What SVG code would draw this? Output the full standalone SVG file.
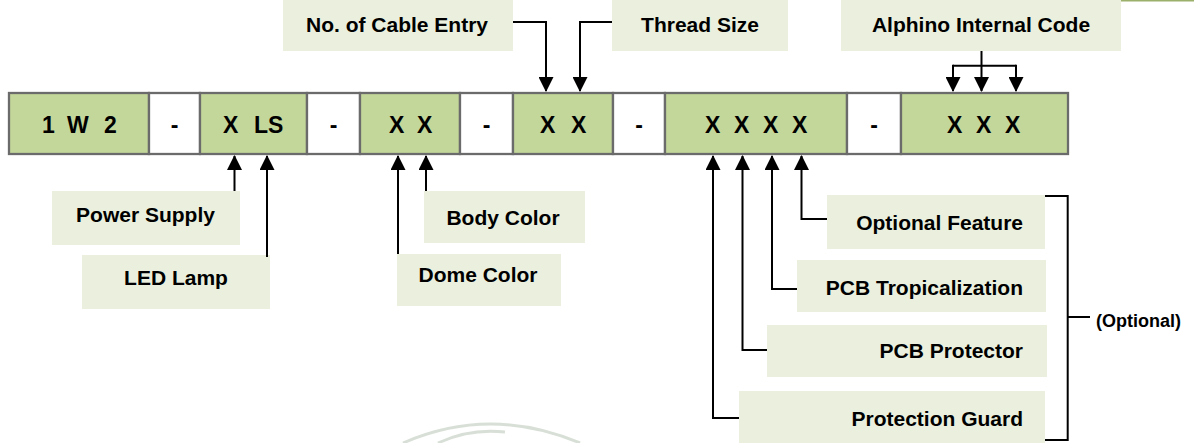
<svg xmlns="http://www.w3.org/2000/svg" width="1194" height="443" viewBox="0 0 1194 443">
<style>
.seg{fill:#C4D79B;stroke:#6b6b6b;stroke-width:2.3}
.dash{fill:#ffffff;stroke:#6b6b6b;stroke-width:2.3}
.lbl{fill:#EBF0DE}
.code{font-family:"Liberation Sans",Arial,sans-serif;font-weight:bold;font-size:23px;fill:#000}
.t{font-family:"Liberation Sans",Arial,sans-serif;font-weight:bold;font-size:21px;fill:#000}
.opt{font-family:"Liberation Sans",Arial,sans-serif;font-weight:bold;font-size:18px;fill:#000}
.c{fill:none;stroke:#000;stroke-width:2}
.a{marker-end:url(#ah)}
</style>
<defs>
<marker id="ah" viewBox="0 0 15 15" markerWidth="15" markerHeight="15" refX="14" refY="7.5" orient="auto" markerUnits="userSpaceOnUse">
<path d="M0,0 L15,7.5 L0,15 z" fill="#000"/>
</marker>
</defs>
<rect x="1121" y="0" width="73" height="1.5" fill="#9BB06A"/>
<g id="watermark" fill="none" stroke="#cfd8cc" stroke-width="3" opacity="0.8">
<path d="M403,443 Q490,405 580,443"/>
<path d="M438,443 Q470,428 505,432"/>
</g>
<g id="code-row">
<g id="seg1"><rect class="seg" x="9" y="93" width="140" height="61"/><text class="code" x="42 55 67 93 104" y="133">1 W 2</text></g>
<g id="dash1"><rect class="dash" x="149" y="93" width="51" height="61"/><text class="code" x="174.5" y="133" text-anchor="middle">-</text></g>
<g id="seg2"><rect class="seg" x="200" y="93" width="107" height="61"/><text class="code" x="223 240 254" y="133">X LS</text></g>
<g id="dash2"><rect class="dash" x="307" y="93" width="53" height="61"/><text class="code" x="333.5" y="133" text-anchor="middle">-</text></g>
<g id="seg3"><rect class="seg" x="360" y="93" width="100" height="61"/><text class="code" x="389 405 417" y="133">X X</text></g>
<g id="dash3"><rect class="dash" x="460" y="93" width="53" height="61"/><text class="code" x="486.5" y="133" text-anchor="middle">-</text></g>
<g id="seg4"><rect class="seg" x="513" y="93" width="100" height="61"/><text class="code" x="540 556 571" y="133">X X</text></g>
<g id="dash4"><rect class="dash" x="613" y="93" width="52" height="61"/><text class="code" x="639" y="133" text-anchor="middle">-</text></g>
<g id="seg5"><rect class="seg" x="665" y="93" width="182" height="61"/><text class="code" x="705 720 734 749 763 778 792" y="133">X X X X</text></g>
<g id="dash5"><rect class="dash" x="847" y="93" width="54" height="61"/><text class="code" x="874" y="133" text-anchor="middle">-</text></g>
<g id="seg6"><rect class="seg" x="901" y="93" width="167" height="61"/><text class="code" x="947 962 976 991 1005" y="133">X X X</text></g>
</g>
<g id="cable-entry"><rect class="lbl" x="283" y="0" width="230" height="51"/><text class="t" x="397" y="32" text-anchor="middle">No. of Cable Entry</text></g>
<g id="thread-size"><rect class="lbl" x="612" y="0" width="176" height="51"/><text class="t" x="700" y="32" text-anchor="middle">Thread Size</text></g>
<g id="internal-code"><rect class="lbl" x="841" y="0" width="280" height="51"/><text class="t" x="981" y="32" text-anchor="middle">Alphino Internal Code</text></g>
<g id="power-supply"><rect class="lbl" x="52" y="191" width="188" height="54"/><text class="t" x="145.5" y="222" text-anchor="middle">Power Supply</text></g>
<g id="led-lamp"><rect class="lbl" x="82" y="255" width="188" height="54"/><text class="t" x="176" y="285" text-anchor="middle">LED Lamp</text></g>
<g id="body-color"><rect class="lbl" x="424" y="191" width="161" height="52"/><text class="t" x="503" y="225" text-anchor="middle">Body Color</text></g>
<g id="dome-color"><rect class="lbl" x="397" y="254" width="164" height="52"/><text class="t" x="478" y="282" text-anchor="middle">Dome Color</text></g>
<g id="optional-feature"><rect class="lbl" x="827" y="195" width="218" height="54"/><text class="t" x="1023" y="230" text-anchor="end">Optional Feature</text></g>
<g id="pcb-tropicalization"><rect class="lbl" x="797" y="260" width="249" height="52"/><text class="t" x="1023" y="295" text-anchor="end">PCB Tropicalization</text></g>
<g id="pcb-protector"><rect class="lbl" x="767" y="325" width="280" height="52"/><text class="t" x="1023" y="358" text-anchor="end">PCB Protector</text></g>
<g id="protection-guard"><rect class="lbl" x="739" y="391" width="306" height="52"/><text class="t" x="1023" y="426" text-anchor="end">Protection Guard</text></g>
<g id="optional-bracket"><path class="c" d="M1045,196 H1067.7 V440 H1045 M1067.7,317 H1090"/><text class="opt" x="1096" y="327">(Optional)</text></g>
<g id="connectors">
<path class="c a" d="M513,22 H546 V91"/>
<path class="c a" d="M612,22 H580 V91"/>
<path class="c a" d="M981.5,51 V91"/>
<path class="c" d="M953,65.7 H1016"/>
<path class="c a" d="M953,64.7 V91"/>
<path class="c a" d="M1016,64.7 V91"/>
<path class="c a" d="M234.5,191 V156"/>
<path class="c a" d="M267,257 V156"/>
<path class="c a" d="M398,254 V156"/>
<path class="c a" d="M426,191 V156"/>
<path class="c a" d="M739,418 H713 V156"/>
<path class="c a" d="M767,350 H742.5 V156"/>
<path class="c a" d="M797,289 H772 V156"/>
<path class="c a" d="M827,219 H801.5 V156"/>
</g>
</svg>
